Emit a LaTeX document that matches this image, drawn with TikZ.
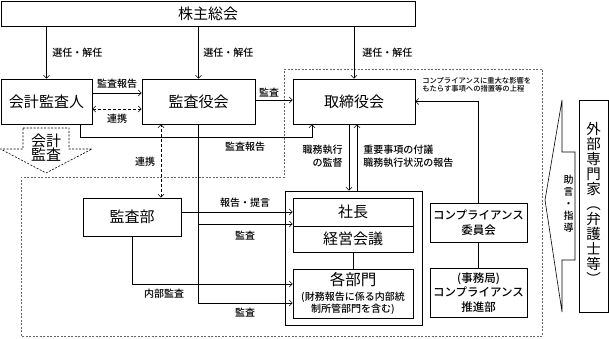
\documentclass[tikz,border=0pt]{standalone}
\usepackage{fontspec}
\setmainfont{Noto Sans CJK JP}
\newfontfamily\medfont{Noto Sans CJK JP Medium}
\usetikzlibrary{arrows.meta}
\begin{document}
\begin{tikzpicture}[x=1pt,y=-1pt,
  line width=0.6pt,
  box/.style={draw, line width=0.7pt, inner sep=0pt, anchor=center},
  big/.style={font=\fontsize{15}{17}\selectfont},
  mid/.style={font=\medfont\fontsize{11.5}{14.5}\selectfont},
  lab/.style={font=\medfont\fontsize{10}{13}\selectfont, inner sep=0pt},
  tinylab/.style={font=\medfont\fontsize{7.3}{8}\selectfont, inner sep=0pt},
  arr/.style={-{Straight Barb[length=3pt,width=6pt]}},
  darr/.style={{Straight Barb[length=3pt,width=6pt]}-{Straight Barb[length=3pt,width=6pt]}, dash pattern=on 3pt off 2pt},
  region/.style={draw=black!60, dash pattern=on 2pt off 1.5pt, line width=0.6pt},
]
\useasboundingbox (0,0) rectangle (609,339);

% dashed regions
\draw[region] (284,69) -- (542,69) -- (542,336) -- (21,336) -- (21,177) -- (284,177) -- cycle;

% boxes
\node[box,big,minimum width=414pt,minimum height=25pt] (kabu) at (208,13.5) {株主総会};
\node[box,big,minimum width=91pt,minimum height=45pt] (kaikei) at (46.5,101.5) {会計監査人};
\node[box,big,minimum width=113pt,minimum height=45pt] (kansayaku) at (198.5,101.5) {監査役会};
\node[box,big,minimum width=122pt,minimum height=45pt] (tori) at (354,101.5) {取締役会};
\node[box,big,minimum width=98pt,minimum height=38pt] (kansabu) at (132,217) {監査部};
\node[box,minimum width=137pt,minimum height=134pt] (outer) at (353.5,258) {};
\node[box,big,minimum width=120pt,minimum height=28pt] (shacho) at (353,212) {社長};
\node[box,big,minimum width=120pt,minimum height=26pt] (keiei) at (353,239) {経営会議};
\node[box,minimum width=120pt,minimum height=49pt] (kakubu) at (353,293.5) {};
\node[inner sep=0pt,font=\fontsize{15.5}{17}\selectfont] (kakubuT) at (353,280) {各部門};
\node[inner sep=0pt,align=center,font=\medfont\fontsize{10}{11.5}\selectfont] (kakubuS) at (353,303.5) {(財務報告に係る内部統\\制所管部門を含む)};
\node[box,mid,minimum width=97pt,minimum height=39pt,align=center] (comp1) at (478.5,222.5) {コンプライアンス\\委員会};
\node[box,mid,minimum width=97pt,minimum height=49pt,align=center] (comp2) at (478.5,292.5) {(事務局)\\コンプライアンス\\推進部};
\node[box,minimum width=29pt,minimum height=212pt] (gaibu) at (593.5,206) {};
\node[inner sep=0pt,align=center,font=\fontsize{14.5}{15}\selectfont] (gaibuT) at (593.5,203) {外\\部\\専\\門\\家\\︵\\弁\\護\\士\\等\\︶};

% kaikei kansa dashed arrow
\draw[dash pattern=on 2pt off 1.5pt, line width=0.6pt] (23,128) -- (69,128) -- (69,149) -- (92,149) -- (46,173) -- (0.5,149) -- (23,149) -- cycle;
\node[inner sep=0pt,align=center,font=\fontsize{15}{14}\selectfont] (kkT) at (46,148) {会計\\監査};

% advice arrow
\draw[line width=0.6pt] (562,100) -- (562,152) -- (575,152) -- (575,260) -- (562,260) -- (562,312) -- (545,200) -- cycle;
\node[inner sep=0pt,align=center,font=\medfont\fontsize{10}{12}\selectfont] (jogen) at (568.5,204) {助\\言\\・\\指\\導};

% shareholders arrows
\draw[arr] (kaikei.north |- kabu.south) -- (kaikei.north);
\draw[arr] (kansayaku.north |- kabu.south) -- (kansayaku.north);
\draw[arr] (tori.north |- kabu.south) -- (tori.north);
\node[lab,anchor=west] (s1) at (52,53) {選任・解任};
\node[lab,anchor=west] (s2) at (203,53) {選任・解任};
\node[lab,anchor=west] (s3) at (362,53) {選任・解任};

% kaikei <-> kansayaku
\draw[arr] ([yshift=8.5pt]kaikei.east) -- ([yshift=8.5pt]kaikei.east -| kansayaku.west);
\node[lab] (l1) at (117,84) {監査報告};
\draw[darr] ([yshift=-7.5pt]kaikei.east) -- ([yshift=-7.5pt]kaikei.east -| kansayaku.west);
\node[lab] (l2) at (117,119) {連携};

% kansayaku -> tori
\draw[arr] ([yshift=1.5pt]kansayaku.east) -- ([yshift=1.5pt]kansayaku.east -| tori.west);
\node[lab] (l3) at (269,93) {監査};

% kaikei -> tori report
\draw[arr] ([xshift=33.5pt]kaikei.south) -- ++(0,12.5) -| ([xshift=-42pt]tori.south);
\node[lab] (l4) at (245,147) {監査報告};

% kansabu <-> kansayaku
\draw[darr] ([xshift=29pt]kansabu.north) -- ([xshift=29pt]kansabu.north |- kansayaku.south);
\node[lab] (l5) at (145,162) {連携};

% kansayaku audit lines
\draw[arr] (kansayaku.south) |- ([yshift=-9.5pt]kakubu.west);
\draw[arr] ([yshift=-12pt]shacho.west -| kansayaku.south) -- ([yshift=-12pt]shacho.west);
\node[lab] (l6) at (245,236) {監査};
\node[lab] (l7) at (245,313) {監査};

% kansabu lines
\draw[arr] (kansabu.east |- shacho.west) -- (shacho.west);
\node[lab] (l8) at (245,203) {報告・提言};
\draw[arr] (kansabu.south) |- ([yshift=9.5pt]kakubu.west);
\node[lab] (l9) at (164,294) {内部監査};

% tori <-> outer
\draw[arr] ([xshift=-5pt]tori.south) -- ([xshift=-5pt]tori.south |- outer.north);
\draw[arr] ([xshift=3pt]tori.south |- outer.north) -- ([xshift=3pt]tori.south);
\node[lab,anchor=east,align=right] (l10) at (343,156) {職務執行\\の監督};
\node[lab,anchor=west,align=left] (l11) at (363,156) {重要事項の付議\\職務執行状況の報告};

% compliance
\draw[arr] (comp1.north) |- (tori.east);
\node[tinylab,anchor=west,align=left] (l12) at (422,85) {コンプライアンスに重大な影響を\\もたらす事項への措置等の上程};
\draw (comp1.south) -- (comp2.north);
\draw (keiei.south) -- (kakubu.north);
\end{tikzpicture}
\end{document}
